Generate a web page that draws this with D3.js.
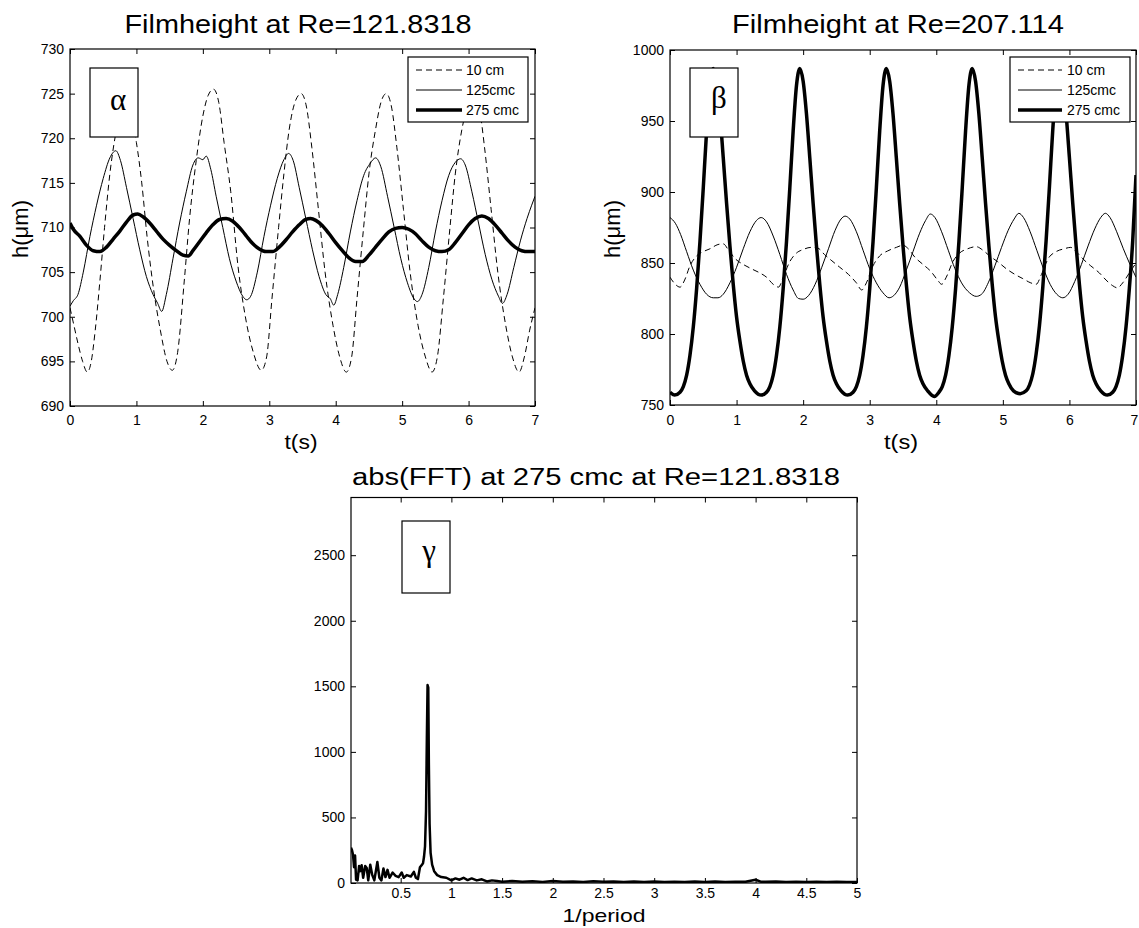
<!DOCTYPE html>
<html><head><meta charset="utf-8">
<script src="https://cdn.jsdelivr.net/npm/d3@7"></script>
<style>
html,body{margin:0;padding:0;background:#fff;}
svg{display:block;background:#fff;}
</style></head><body>
<svg id="chart" width="1139" height="928"></svg>
<script>
// ---------------- DATA ----------------
const timeTicks = [0,1,2,3,4,5,6,7];
const alphaYTicks = [690,695,700,705,710,715,720,725,730];
const betaYTicks = [750,800,850,900,950,1000];
const gammaXTicks = [0.5,1,1.5,2,2.5,3,3.5,4,4.5,5];
const gammaYTicks = [0,500,1000,1500,2000,2500];
const legendNames = ["10 cm","125cmc","275 cmc"];

// Panel alpha: Filmheight at Re=121.8318  [t(s), h(um)]
const alpha10cm = [[0.00,701.0],[0.06,699.0],[0.12,697.0],[0.19,695.0],[0.26,693.8],[0.32,695.0],[0.38,698.5],[0.45,704.0],[0.52,710.0],[0.6,716.0],[0.7,721.0],[0.82,724.5],[0.92,722.5],[1.0,719.5],[1.08,715.0],[1.16,709.0],[1.26,703.0],[1.36,698.5],[1.46,695.0],[1.54,694.0],[1.62,696.0],[1.72,704.0],[1.8,711.0],[1.9,717.5],[2.0,722.5],[2.08,724.8],[2.16,725.5],[2.24,724.0],[2.32,719.5],[2.42,714.0],[2.53,705.6],[2.64,700.0],[2.76,696.0],[2.88,694.0],[2.96,695.5],[3.04,702.0],[3.14,710.0],[3.22,716.0],[3.3,721.0],[3.4,724.3],[3.48,725.0],[3.56,723.5],[3.64,719.0],[3.74,712.0],[3.84,705.0],[3.96,699.0],[4.06,695.5],[4.16,693.8],[4.24,695.5],[4.32,702.0],[4.42,710.0],[4.5,716.0],[4.6,721.0],[4.68,724.0],[4.76,725.0],[4.84,723.5],[4.92,719.0],[5.02,712.0],[5.12,705.0],[5.24,699.0],[5.35,695.5],[5.45,693.8],[5.53,695.5],[5.62,702.0],[5.72,710.0],[5.8,716.0],[5.9,721.0],[6.0,724.0],[6.08,725.0],[6.16,723.5],[6.24,719.0],[6.34,712.0],[6.44,705.0],[6.56,699.0],[6.66,695.5],[6.76,693.8],[6.84,695.5],[6.92,698.5],[7.0,701.0]];
const alpha125cmc = [[0,701.2],[0.05,701.8],[0.12,702.5],[0.2,705],[0.3,709],[0.4,712.5],[0.5,715.5],[0.6,717.8],[0.69,718.6],[0.76,717.5],[0.85,714.5],[0.95,711],[1.05,707.5],[1.15,704.5],[1.25,702.5],[1.32,701.5],[1.38,700.6],[1.45,702.5],[1.55,706.5],[1.65,710.5],[1.75,714],[1.85,717],[1.93,717.8],[2.0,717.6],[2.05,718],[2.12,716.5],[2.2,713.5],[2.3,710],[2.4,706.5],[2.5,704],[2.6,702.3],[2.66,701.9],[2.72,702.3],[2.82,705],[2.92,709],[3.02,712.5],[3.12,715.5],[3.22,717.6],[3.29,718.3],[3.36,717.5],[3.45,714.5],[3.55,711],[3.65,707.5],[3.75,704.5],[3.85,702.5],[3.92,702],[3.97,701.3],[4.03,702.5],[4.12,705.5],[4.22,709.5],[4.32,713],[4.42,715.8],[4.52,717.2],[4.6,717.8],[4.68,716.8],[4.78,713.5],[4.88,710],[4.98,706.5],[5.08,703.8],[5.18,702],[5.23,701.7],[5.3,702.5],[5.4,705.5],[5.5,709.5],[5.6,713],[5.7,715.8],[5.8,717.3],[5.88,717.7],[5.95,717],[6.05,714],[6.15,710.5],[6.25,707],[6.35,704.2],[6.45,702.3],[6.51,701.5],[6.58,702.5],[6.68,705.5],[6.78,708.5],[6.88,711],[6.95,712.5],[7.0,713.5]];
const alpha275cmc = [[0,710.5],[0.05,709.8],[0.15,709],[0.25,708],[0.35,707.4],[0.45,707.3],[0.55,707.8],[0.65,708.7],[0.75,709.6],[0.85,710.6],[0.95,711.4],[1.02,711.5],[1.1,711.2],[1.2,710.5],[1.3,709.6],[1.4,708.7],[1.5,708],[1.6,707.4],[1.7,706.9],[1.78,706.8],[1.85,707.4],[1.95,708.4],[2.05,709.4],[2.15,710.3],[2.25,710.9],[2.35,711],[2.45,710.7],[2.55,710],[2.65,709.1],[2.75,708.2],[2.85,707.6],[2.95,707.3],[3.05,707.3],[3.15,707.8],[3.25,708.6],[3.35,709.5],[3.45,710.3],[3.55,710.9],[3.62,711],[3.7,710.8],[3.8,710.2],[3.9,709.3],[4.0,708.3],[4.1,707.4],[4.2,706.6],[4.3,706.2],[4.4,706.2],[4.5,706.9],[4.6,707.8],[4.7,708.7],[4.8,709.5],[4.9,709.9],[5.0,710],[5.1,709.8],[5.2,709.3],[5.3,708.5],[5.4,707.8],[5.5,707.4],[5.6,707.3],[5.7,707.5],[5.8,708.3],[5.9,709.3],[6.0,710.3],[6.1,711],[6.2,711.3],[6.3,711],[6.4,710.3],[6.5,709.4],[6.6,708.5],[6.7,707.8],[6.8,707.4],[6.9,707.3],[7.0,707.3]];

// Panel beta: Filmheight at Re=207.114
const beta10cm = [[0,840],[0.08,835],[0.15,833],[0.22,838],[0.3,848],[0.4,855],[0.5,858],[0.6,860],[0.72,863],[0.8,863.5],[0.88,859],[0.98,853],[1.1,849],[1.22,846],[1.35,843],[1.45,840],[1.55,835],[1.63,833],[1.7,840],[1.8,851],[1.9,857],[2.0,859.5],[2.12,861],[2.22,860.5],[2.32,856],[2.42,852],[2.55,847],[2.68,842],[2.8,836],[2.88,831],[2.95,836],[3.05,848],[3.15,855],[3.27,858.5],[3.4,861],[3.5,862.5],[3.58,860],[3.68,854],[3.8,849],[3.92,844],[4.02,838],[4.08,835],[4.15,840],[4.25,851],[4.35,857],[4.47,860],[4.6,861.5],[4.7,859],[4.8,855],[4.92,851],[5.05,846],[5.18,842],[5.3,839],[5.42,836],[5.5,835],[5.58,842],[5.68,853],[5.8,858],[5.92,860],[6.02,861],[6.1,858],[6.2,853],[6.32,848],[6.45,843],[6.55,838],[6.65,834],[6.72,832.5],[6.8,836],[6.9,843],[7.0,850]];
const beta125cmc = [[0,882],[0.08,878],[0.16,870],[0.25,858],[0.35,845],[0.45,835],[0.55,828],[0.65,825.5],[0.72,825.5],[0.8,828],[0.9,836],[1.0,847],[1.1,860],[1.2,872],[1.3,880],[1.37,882],[1.45,879],[1.55,869],[1.65,856],[1.75,842],[1.85,831],[1.93,825],[2.0,824.5],[2.08,827],[2.18,835],[2.28,847],[2.38,860],[2.48,873],[2.57,881],[2.63,883],[2.7,881],[2.8,872],[2.9,859],[3.0,846],[3.1,836],[3.2,829],[3.29,825.5],[3.36,827],[3.45,833],[3.55,845],[3.65,858],[3.75,871],[3.84,880],[3.91,884.5],[3.98,882],[4.08,872],[4.18,859],[4.28,846],[4.38,836],[4.5,829],[4.6,826.5],[4.68,828],[4.78,836],[4.88,848],[4.98,861],[5.08,873],[5.17,881],[5.24,885],[5.31,882],[5.41,872],[5.51,859],[5.61,846],[5.71,835],[5.81,828],[5.9,825.5],[5.98,828],[6.08,837],[6.18,849],[6.28,862],[6.38,874],[6.47,882],[6.54,885],[6.61,882],[6.71,872],[6.81,860],[6.91,849],[7.0,840]];
const beta275cmc = [[0,759],[0.07,757],[0.15,759],[0.2,763],[0.25,771],[0.3,785],[0.35,805],[0.4,832],[0.45,865],[0.5,903],[0.55,943],[0.6,975],[0.65,987],[0.7,978],[0.75,955],[0.8,924],[0.85,892],[0.9,862],[0.95,835],[1.0,812],[1.05,795],[1.1,781],[1.15,771],[1.2,765],[1.27,760],[1.37,757],[1.45,759],[1.5,763],[1.55,771],[1.6,785],[1.65,805],[1.7,832],[1.75,865],[1.8,903],[1.85,943],[1.9,975],[1.95,987],[2.0,978],[2.05,955],[2.1,924],[2.15,892],[2.2,862],[2.25,835],[2.3,812],[2.35,795],[2.4,781],[2.45,771],[2.5,765],[2.57,760],[2.67,757],[2.75,759],[2.8,763],[2.85,771],[2.9,785],[2.95,805],[3.0,832],[3.05,865],[3.1,903],[3.15,943],[3.2,975],[3.25,987],[3.3,978],[3.35,955],[3.4,924],[3.45,892],[3.5,862],[3.55,835],[3.6,812],[3.65,795],[3.7,781],[3.75,771],[3.8,765],[3.87,760],[3.97,756],[4.04,759],[4.09,763],[4.14,771],[4.19,785],[4.24,805],[4.29,832],[4.34,865],[4.39,903],[4.44,943],[4.49,975],[4.54,987],[4.59,978],[4.64,955],[4.69,924],[4.74,892],[4.79,862],[4.84,835],[4.89,812],[4.94,795],[4.99,781],[5.04,771],[5.09,765],[5.16,760],[5.26,758],[5.35,760],[5.4,764],[5.45,772],[5.5,786],[5.55,806],[5.6,833],[5.65,866],[5.7,904],[5.75,944],[5.8,975],[5.85,987],[5.9,978],[5.95,955],[6.0,924],[6.05,892],[6.1,862],[6.15,835],[6.2,812],[6.25,795],[6.3,781],[6.35,771],[6.4,765],[6.47,760],[6.57,757],[6.65,759],[6.7,763],[6.75,771],[6.8,785],[6.85,805],[6.9,832],[6.95,865],[7.0,912]];

// Panel gamma: abs(FFT) at 275 cmc  [1/period, amplitude]
const gammaFFT = [[0.01,270],[0.02,250],[0.03,215],[0.04,120],[0.05,210],[0.06,25],[0.075,20],[0.09,130],[0.1,90],[0.115,135],[0.13,40],[0.15,130],[0.165,115],[0.18,20],[0.2,140],[0.22,60],[0.24,20],[0.27,160],[0.29,40],[0.31,20],[0.33,110],[0.35,45],[0.37,100],[0.39,40],[0.42,80],[0.45,55],[0.48,45],[0.51,80],[0.53,40],[0.56,60],[0.6,50],[0.63,85],[0.65,40],[0.67,30],[0.69,120],[0.71,140],[0.72,150],[0.73,200],[0.74,280],[0.75,550],[0.758,1100],[0.765,1510],[0.772,1490],[0.778,900],[0.785,450],[0.795,230],[0.81,140],[0.83,90],[0.86,60],[0.9,45],[0.95,40],[1.0,20],[1.04,35],[1.08,25],[1.12,40],[1.16,22],[1.2,35],[1.25,20],[1.3,28],[1.35,12],[1.4,20],[1.45,15],[1.5,10],[1.6,15],[1.7,10],[1.8,14],[1.9,8],[2.0,16],[2.1,10],[2.2,12],[2.3,8],[2.4,13],[2.5,10],[2.6,12],[2.7,8],[2.8,12],[2.9,7],[3.0,12],[3.1,8],[3.2,10],[3.3,8],[3.4,11],[3.5,7],[3.6,12],[3.7,8],[3.8,10],[3.9,9],[4.0,25],[4.05,10],[4.1,9],[4.2,12],[4.3,8],[4.4,10],[4.5,7],[4.6,10],[4.7,8],[4.8,9],[4.9,7],[5.0,8]];

// ---------------- DRAWING ----------------
const SANS = "'Liberation Sans', Arial, Helvetica, sans-serif";
const SERIF = "'Liberation Serif', 'Times New Roman', serif";
const svg = d3.select("#chart");
svg.append("rect").attr("width",1139).attr("height",928).attr("fill","#fff");

function styleAxis(sel){
  sel.select(".domain").remove();
  sel.attr("font-size",14).attr("font-family",SANS);
  sel.selectAll("line").attr("stroke","#000").attr("stroke-width",1);
  sel.selectAll("text").attr("fill","#000");
}

function drawPanel(p){
  const g = svg.append("g");
  const x = d3.scaleLinear().domain(p.xDomain).range([p.left,p.right]);
  const y = d3.scaleLinear().domain(p.yDomain).range([p.bottom,p.top]);
  const cid = "clip-"+p.id;
  svg.append("clipPath").attr("id",cid).append("rect")
    .attr("x",p.left).attr("y",p.top).attr("width",p.right-p.left).attr("height",p.bottom-p.top);
  const lg = g.append("g").attr("clip-path",`url(#${cid})`);
  p.series.forEach(s=>{
    const line = d3.line().x(d=>x(d[0])).y(d=>y(d[1])).curve(s.curve||d3.curveMonotoneX);
    lg.append("path").datum(s.data).attr("d",line).attr("fill","none")
      .attr("stroke","#000").attr("stroke-width",s.width)
      .attr("stroke-dasharray",s.dash||null).attr("stroke-linejoin","round");
  });
  const fmt = d=>String(d);
  const xb = g.append("g").attr("transform",`translate(0,${p.bottom})`)
    .call(d3.axisBottom(x).tickValues(p.xTicks).tickSizeInner(-5).tickSizeOuter(0).tickPadding(p.xPad).tickFormat(fmt)).call(styleAxis);
  if(p.lastLabelShift){
    xb.selectAll(".tick text").filter((d,i,n)=>i===n.length-1).attr("x",p.lastLabelShift);
  }
  g.append("g").attr("transform",`translate(0,${p.top})`)
    .call(d3.axisTop(x).tickValues(p.xTicks).tickSizeInner(-5).tickSizeOuter(0).tickFormat("")).call(styleAxis);
  g.append("g").attr("transform",`translate(${p.left},0)`)
    .call(d3.axisLeft(y).tickValues(p.yTicks).tickSizeInner(-5).tickSizeOuter(0).tickPadding(6).tickFormat(fmt)).call(styleAxis);
  g.append("g").attr("transform",`translate(${p.right},0)`)
    .call(d3.axisRight(y).tickValues(p.yTicks).tickSizeInner(-5).tickSizeOuter(0).tickFormat("")).call(styleAxis);
  g.append("rect").attr("x",p.left).attr("y",p.top).attr("width",p.right-p.left).attr("height",p.bottom-p.top)
    .attr("fill","none").attr("stroke","#000").attr("stroke-width",1.2);

  // title
  const t = p.title;
  g.append("text").attr("x",t.cx-t.len/2).attr("y",t.y).text(t.text)
    .attr("font-family",SANS).attr("font-size",t.size).attr("textLength",t.len).attr("lengthAdjust","spacingAndGlyphs");
  // x label
  const xl = p.xlabel;
  g.append("text").attr("x",xl.cx-xl.len/2).attr("y",xl.y).text(xl.text)
    .attr("font-family",SANS).attr("font-size",xl.size).attr("textLength",xl.len).attr("lengthAdjust","spacingAndGlyphs");
  // y label
  if(p.ylabel){
    g.append("text").attr("transform",`translate(${p.ylabel.x},${p.ylabel.cy}) rotate(-90)`)
      .attr("text-anchor","middle").attr("font-family",SANS).attr("font-size",p.ylabel.size).text(p.ylabel.text);
  }
  // greek label box
  const b = p.tag;
  g.append("rect").attr("x",b.x0).attr("y",b.y0).attr("width",b.x1-b.x0).attr("height",b.y1-b.y0)
    .attr("fill","#fff").attr("stroke","#000").attr("stroke-width",1.2);
  g.append("text").attr("x",b.tx).attr("y",b.ty).attr("text-anchor","middle")
    .attr("font-family",SERIF).attr("font-size",b.size).text(b.letter);
  // legend
  if(p.legend){
    const L = p.legend;
    g.append("rect").attr("x",L.x0).attr("y",L.y0).attr("width",L.x1-L.x0).attr("height",L.y1-L.y0)
      .attr("fill","#fff").attr("stroke","#000").attr("stroke-width",1.2);
    p.series.forEach((s,i)=>{
      const ry = L.rowY[i];
      g.append("line").attr("x1",L.lx0).attr("x2",L.lx1).attr("y1",ry).attr("y2",ry)
        .attr("stroke","#000").attr("stroke-width",s.width).attr("stroke-dasharray",s.dash||null);
      g.append("text").attr("x",L.tx).attr("y",ry).attr("dy","0.35em")
        .attr("font-family",SANS).attr("font-size",14).text(legendNames[i]);
    });
  }
}

drawPanel({
  id:"alpha", left:70, right:535, top:49, bottom:406,
  xDomain:[0,7], yDomain:[690,730], xTicks:timeTicks, yTicks:alphaYTicks, xPad:9,
  series:[{data:alpha10cm,width:1,dash:"6,4"},{data:alpha125cmc,width:1},{data:alpha275cmc,width:3.5}],
  title:{text:"Filmheight at Re=121.8318",cx:298,y:33,size:25,len:347},
  xlabel:{text:"t(s)",cx:301,y:449,size:20,len:33},
  ylabel:{text:"h(\u03bcm)",x:28,cy:229,size:22},
  tag:{x0:90,x1:138,y0:68,y1:137,letter:"\u03b1",tx:118,ty:110,size:31},
  legend:{x0:408,x1:528,y0:57,y1:122,rowY:[70,90,110],lx0:416,lx1:462,tx:466}
});

drawPanel({
  id:"beta", left:670, right:1136, top:50, bottom:405,
  xDomain:[0,7], yDomain:[750,1000], xTicks:timeTicks, yTicks:betaYTicks, xPad:10, lastLabelShift:-2,
  series:[{data:beta10cm,width:1,dash:"6,4"},{data:beta125cmc,width:1},{data:beta275cmc,width:3.5}],
  title:{text:"Filmheight at Re=207.114",cx:898,y:33,size:25,len:332},
  xlabel:{text:"t(s)",cx:901,y:449,size:20,len:34},
  ylabel:{text:"h(\u03bcm)",x:620,cy:229,size:22},
  tag:{x0:690,x1:738,y0:68,y1:137,letter:"\u03b2",tx:719,ty:108,size:31},
  legend:{x0:1010,x1:1130,y0:57,y1:122,rowY:[70,90,110],lx0:1018,lx1:1062,tx:1067}
});

drawPanel({
  id:"gamma", left:351, right:857, top:497.5, bottom:883,
  xDomain:[0.01,5], yDomain:[0,2940], xTicks:gammaXTicks, yTicks:gammaYTicks, xPad:5,
  series:[{data:gammaFFT,width:2.5,curve:d3.curveLinear}],
  title:{text:"abs(FFT) at 275 cmc at Re=121.8318",cx:596,y:485,size:23,len:488},
  xlabel:{text:"1/period",cx:604,y:922,size:19,len:83},
  ylabel:null,
  tag:{x0:402,x1:450,y0:521,y1:593,letter:"\u03b3",tx:429,ty:561,size:31},
  legend:null
});
</script>
</body></html>
